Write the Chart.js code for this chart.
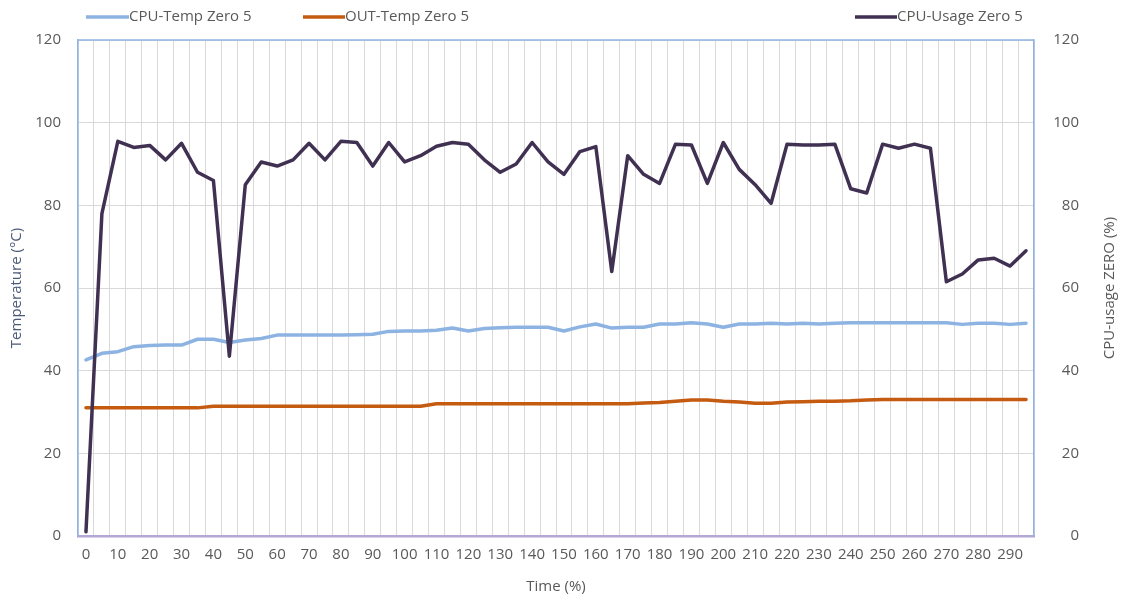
<!DOCTYPE html>
<html><head><meta charset="utf-8">
<script src="https://cdn.jsdelivr.net/npm/chart.js@4.4.1/dist/chart.umd.min.js"></script>
<style>html,body{margin:0;padding:0;background:#fff;}#wrap{width:1123px;height:598px;position:relative;}</style>
</head><body><div id="wrap"><canvas id="c" width="1123" height="598"></canvas></div>
<script>
const timeLabels = ['0','5','10','15','20','25','30','35','40','45','50','55','60','65','70','75','80','85','90','95',
  '100','105','110','115','120','125','130','135','140','145','150','155','160','165','170','175','180','185','190','195',
  '200','205','210','215','220','225','230','235','240','245','250','255','260','265','270','275','280','285','290','295'];
const cpuTemp = [42.6,44.2,44.6,45.8,46.1,46.2,46.2,47.6,47.6,46.8,47.4,47.8,48.6,48.6,48.6,48.6,48.6,48.7,48.8,49.5,
  49.6,49.6,49.8,50.3,49.6,50.2,50.4,50.5,50.5,50.5,49.6,50.6,51.3,50.3,50.5,50.5,51.3,51.3,51.6,51.3,
  50.5,51.3,51.3,51.5,51.3,51.5,51.3,51.5,51.6,51.6,51.6,51.6,51.6,51.6,51.6,51.2,51.5,51.5,51.2,51.5];
const outTemp = [31.0,31.0,31.0,31.0,31.0,31.0,31.0,31.0,31.4,31.4,31.4,31.4,31.4,31.4,31.4,31.4,31.4,31.4,31.4,31.4,
  31.4,31.4,32.0,32.0,32.0,32.0,32.0,32.0,32.0,32.0,32.0,32.0,32.0,32.0,32.0,32.2,32.3,32.6,32.9,32.9,
  32.6,32.4,32.1,32.1,32.4,32.5,32.6,32.6,32.7,32.9,33.0,33.0,33.0,33.0,33.0,33.0,33.0,33.0,33.0,33.0];
const cpuUsage = [1,78,95.5,94,94.5,91,95,88,86,43.5,85,90.5,89.5,91,95,91,95.5,95.2,89.5,95.2,
  90.5,92,94.3,95.2,94.8,91,88,90,95.2,90.5,87.5,93,94.2,64,92,87.5,85.3,94.8,94.6,85.3,
  95.2,88.7,85,80.5,94.8,94.6,94.6,94.8,84,83,94.8,93.8,94.8,93.8,61.5,63.4,66.8,67.2,65.3,69];
const yTicks = [0,20,40,60,80,100,120];
const seriesNames = ['CPU-Temp Zero 5','OUT-Temp Zero 5','CPU-Usage Zero 5'];
const axisTitles = {left:'Temperature (°C)', right:'CPU-usage ZERO (%)', bottom:'Time (%)'};

const FONT = "'Open Sans', sans-serif";
const TXT = '#595959';
const COLORS = ['#8db3e2','#c55a11','#403152'];

const decor = {
  id:'decor',
  afterDraw(chart){
    const {ctx, chartArea:a} = chart;
    ctx.save();
    // top border
    ctx.strokeStyle='#8eb4e3'; ctx.lineWidth=1.5;
    ctx.beginPath(); ctx.moveTo(a.left,a.top); ctx.lineTo(a.right,a.top); ctx.stroke();
    // right axis tick labels (right-aligned, as in the reference)
    const y1 = chart.scales.y1;
    ctx.font = '15px '+FONT; ctx.fillStyle=TXT; ctx.textAlign='right'; ctx.textBaseline='middle';
    yTicks.forEach(v=>ctx.fillText(String(v), 1079, y1.getPixelForValue(v)));
    // legend
    const legendPos = [[86,129],[303,345],[855,897]];
    ctx.textAlign='left';
    chart.data.datasets.forEach((ds,i)=>{
      const [x0,x1]=legendPos[i];
      ctx.strokeStyle=ds.borderColor; ctx.lineWidth=3.5; ctx.lineCap='butt';
      ctx.beginPath(); ctx.moveTo(x0,17); ctx.lineTo(x1,17); ctx.stroke();
      ctx.fillStyle=TXT; ctx.fillText(ds.label,x1,17);
    });
    // axis titles
    ctx.textAlign='center';
    ctx.save(); ctx.translate(17,(a.top+a.bottom)/2); ctx.rotate(-Math.PI/2);
    ctx.fillStyle='#4a5a78'; ctx.fillText(axisTitles.left,0,0); ctx.restore();
    ctx.save(); ctx.translate(1110,(a.top+a.bottom)/2); ctx.rotate(-Math.PI/2);
    ctx.fillStyle=TXT; ctx.fillText(axisTitles.right,0,0); ctx.restore();
    ctx.fillStyle=TXT; ctx.fillText(axisTitles.bottom,(a.left+a.right)/2,587);
    ctx.restore();
  }
};

new Chart(document.getElementById('c'),{
  type:'line',
  data:{
    labels: timeLabels,
    datasets:[
      {label:seriesNames[0], data:cpuTemp, borderColor:COLORS[0], backgroundColor:COLORS[0], borderWidth:3.5, yAxisID:'y', order:3},
      {label:seriesNames[1], data:outTemp, borderColor:COLORS[1], backgroundColor:COLORS[1], borderWidth:3.5, yAxisID:'y', order:2},
      {label:seriesNames[2], data:cpuUsage, borderColor:COLORS[2], backgroundColor:COLORS[2], borderWidth:3.5, yAxisID:'y1', order:1}
    ]
  },
  options:{
    responsive:false, animation:false,
    layout:{padding:{top:40,left:0,right:0,bottom:0}},
    elements:{point:{radius:0,hoverRadius:0}, line:{tension:0, borderJoinStyle:'round', borderCapStyle:'round'}},
    plugins:{legend:{display:false}, tooltip:{enabled:false}},
    scales:{
      x:{
        offset:true,
        grid:{offset:true, color:'#d9d9d9', lineWidth:1, drawTicks:false},
        border:{color:'#b4a7d6', width:2.5},
        ticks:{autoSkip:false, maxRotation:0, minRotation:0, padding:10, color:TXT, font:{family:FONT,size:15},
          callback:function(v,i){ const l=timeLabels[i]; return (Number(l)%10===0)?l:''; }},
        afterFit(s){ s.height = 62; }
      },
      y:{
        position:'left', min:0, max:120,
        afterBuildTicks(s){ s.ticks = yTicks.map(v=>({value:v})); },
        grid:{color:'#d9d9d9', lineWidth:1, drawTicks:false},
        border:{color:'#8eb4e3', width:1.5},
        ticks:{padding:17, color:TXT, font:{family:FONT,size:15}},
        afterFit(s){ s.width = 78; }
      },
      y1:{
        position:'right', min:0, max:120,
        afterBuildTicks(s){ s.ticks = yTicks.map(v=>({value:v})); },
        grid:{drawOnChartArea:false, drawTicks:false},
        border:{color:'#8eb4e3', width:1.5},
        ticks:{display:false},
        afterFit(s){ s.width = 89; }
      }
    }
  },
  plugins:[decor]
});
</script></body></html>
